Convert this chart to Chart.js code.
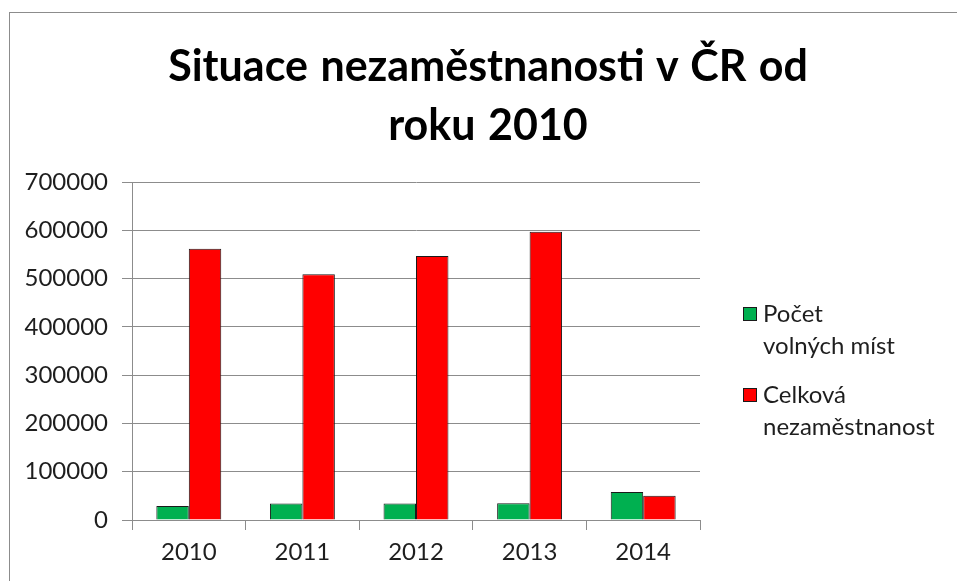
<!DOCTYPE html>
<html>
<head>
<meta charset="utf-8">
<script src="https://cdn.jsdelivr.net/npm/chart.js@4"></script>
<style>
    body { margin: 0; background: #fff; }
    #wrap { position: relative; width: 957px; height: 581px; overflow: hidden; font-family: Lato, "Open Sans", sans-serif; color: #1e1e1e; }
    #frame { position: absolute; left: 9px; top: 12px; width: 1000px; height: 600px; border-left: 1px solid #8c8c8c; border-top: 1px solid #8c8c8c; }
    #title { position: absolute; left: 0; width: 976px; top: 35px; text-align: center; font-weight: bold; font-size: 43px; line-height: 59px; color: #000; word-spacing: 2px; }
    #legend { position: absolute; left: 743px; top: 297px; font-size: 24px; line-height: 32px; }
    .item { position: relative; padding-left: 20px; margin-bottom: 17px; }
    .box { position: absolute; left: 0; top: 10px; width: 12px; height: 12px; border: 1px solid #1a1a1a; }
    canvas { position: absolute; left: 0; top: 0; }
</style>
</head>
<body>
<div id="wrap">
    <div id="frame"></div>
    <canvas id="chart" width="957" height="581"></canvas>
    <div id="title">Situace nezaměstnanosti v ČR od<br>roku 2010</div>
    <div id="legend"></div>
</div>
<script>
const years = ["2010", "2011", "2012", "2013", "2014"];
const volnaMista = [29000, 34000, 34000, 34500, 58000];
const nezamestnanost = [562000, 509000, 547000, 597000, 50000];
const yTicks = [0, 100000, 200000, 300000, 400000, 500000, 600000, 700000];

const seriesLabels = [["Počet", "volných míst"], ["Celková", "nezaměstnanost"]];
const seriesColors = ["#00B050", "#FF0000"];

const gridColor = "#8c8c8c";
const tickFont = { family: "Lato", size: 24 };

const ctx = document.getElementById("chart").getContext("2d");
const chart = new Chart(ctx, {
    type: "bar",
    data: {
        labels: years,
        datasets: [
            {
                label: seriesLabels[0].join(" "),
                data: volnaMista,
                backgroundColor: seriesColors[0],
                borderColor: "#1a1a1a",
                borderWidth: 1
            },
            {
                label: seriesLabels[1].join(" "),
                data: nezamestnanost,
                backgroundColor: seriesColors[1],
                borderColor: "#1a1a1a",
                borderWidth: 1
            }
        ]
    },
    options: {
        responsive: false,
        animation: false,
        devicePixelRatio: 1,
        layout: { padding: { top: 182, left: 0, right: 257, bottom: 0 } },
        plugins: {
            legend: { display: false },
            title: { display: false },
            tooltip: { enabled: false }
        },
        datasets: {
            bar: { categoryPercentage: 2 / 3.5, barPercentage: 1 }
        },
        scales: {
            x: {
                grid: { offset: true, drawOnChartArea: false, color: gridColor, tickLength: 10 },
                border: { color: gridColor },
                ticks: { font: tickFont, color: "#1e1e1e", padding: 8, maxRotation: 0 },
                afterFit: s => { s.height = 61; }
            },
            y: {
                min: 0,
                max: 700000,
                afterBuildTicks: s => { s.ticks = yTicks.map(v => ({ value: v })); },
                grid: { color: gridColor, tickLength: 10 },
                border: { color: gridColor },
                ticks: { font: tickFont, color: "#1e1e1e", padding: 14, callback: v => String(v) },
                afterFit: s => { s.width = 132; }
            }
        }
    }
});

// legend with wrapped labels, built from the series
const legend = document.getElementById("legend");
seriesLabels.forEach((lines, i) => {
    const item = document.createElement("div");
    item.className = "item";
    item.innerHTML = `<span class="box" style="background:${seriesColors[i]}"></span>${lines.join("<br>")}`;
    legend.appendChild(item);
});
</script>
</body>
</html>
